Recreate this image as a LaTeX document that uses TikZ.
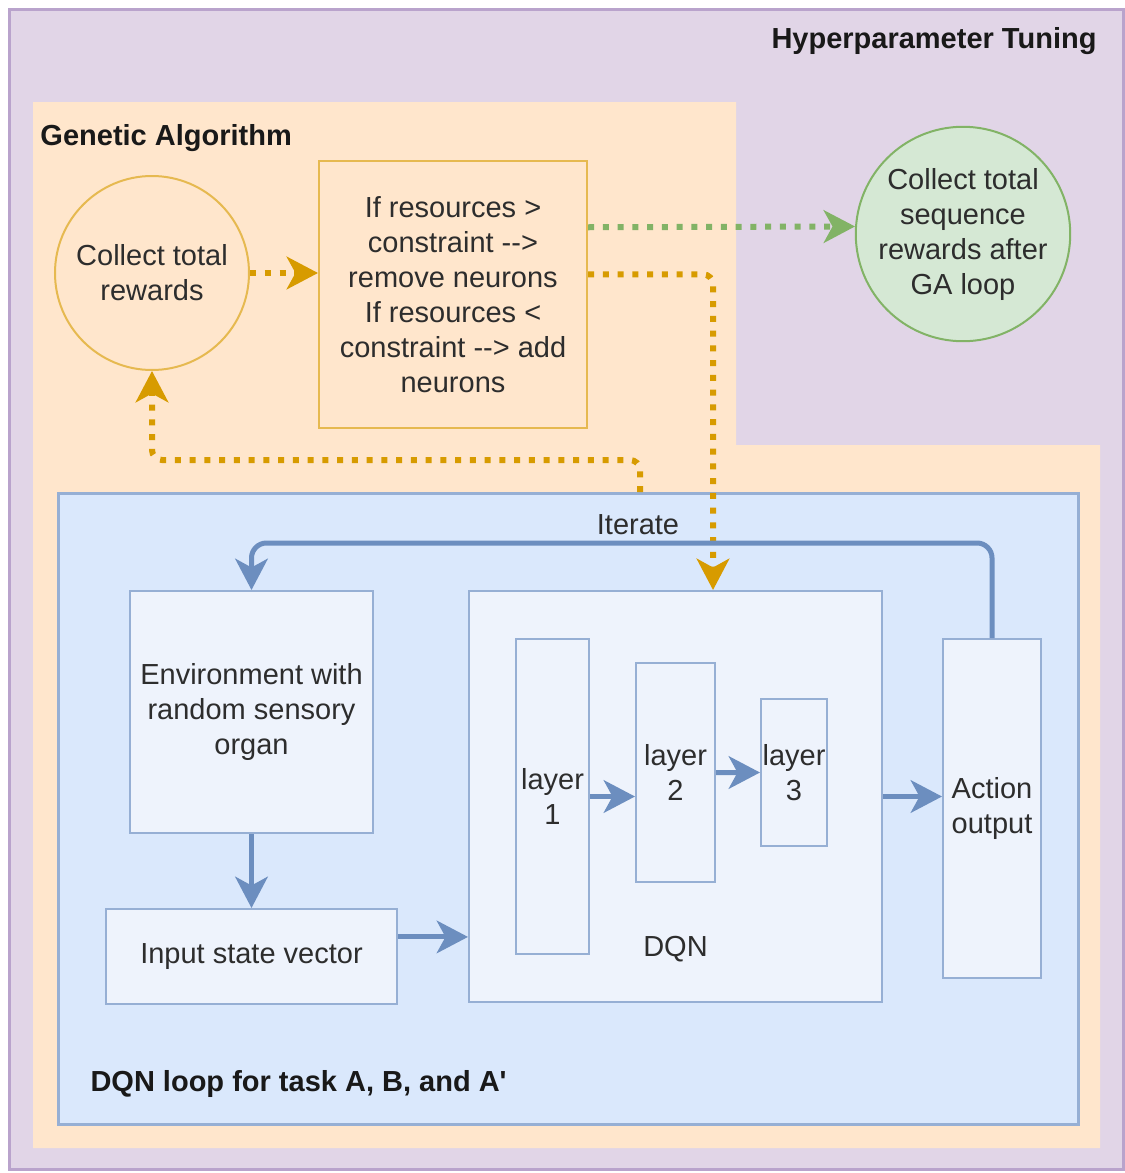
\documentclass[tikz,border=0pt]{standalone}
\usepackage{fontspec}
\setmainfont{Liberation Sans}
\usepackage{tikz}
\usetikzlibrary{shapes.geometric, arrows.meta, positioning, calc}
\definecolor{purpleBg}{RGB}{225, 213, 231}
\definecolor{purpleFg}{RGB}{185, 163, 204}
\definecolor{orangeBg}{RGB}{255, 230, 204}
\definecolor{yellowFg}{RGB}{230, 185, 80}
\definecolor{orangeFg}{RGB}{215, 155, 0}
\definecolor{greenBg}{RGB}{213, 232, 212}
\definecolor{greenFg}{RGB}{130, 179, 102}
\definecolor{blueBg}{RGB}{218, 232, 252}
\definecolor{blueFg}{RGB}{108, 142, 191}
\definecolor{boxFg}{RGB}{150, 175, 212}
\definecolor{boxBg}{RGB}{238, 243, 252}
\definecolor{textGray}{RGB}{45, 45, 45}
\tikzstyle{txt} = [text=textGray, font=\fontsize{11.6}{14}\selectfont, align=center, inner sep=0pt]
\tikzstyle{title} = [text=black!90, font=\bfseries\fontsize{11.6}{14}\selectfont, inner sep=0pt]
\tikzstyle{basic} = [rectangle, draw=boxFg, fill=boxBg, line width=0.8pt, txt]
\tikzstyle{roundstyle} = [circle, line width=0.8pt, txt]
\tikzstyle{bluearrow} = [line width=2pt, draw=blueFg, rounded corners=6pt, -{Stealth[length=12.5pt, width=13pt, inset=3.5pt]}]
\tikzstyle{dotarrow} = [line width=2.4pt, dash pattern=on 2.4pt off 3.5pt, rounded corners=4pt, -{Stealth[length=12.5pt, width=13pt, inset=3.5pt]}]

\begin{document}
\begin{tikzpicture}[x=0.4pt, y=-0.4pt, node distance=0mm]

\useasboundingbox (0,0) rectangle (1125,1173);

% containers
\node (tuning) [rectangle, draw=purpleFg, fill=purpleBg, line width=1.2pt, minimum width=445.6pt, minimum height=464pt, anchor=north west] at (8,8) {};
\fill [orangeBg] (33,102) -- (736,102) -- (736,445) -- (1100,445) -- (1100,1148) -- (33,1148) -- cycle;
\node (loop) [rectangle, draw=boxFg, fill=blueBg, line width=1pt, minimum width=408pt, minimum height=252.4pt, anchor=north west] at (57,492) {};

\node (tuningTitle) [title, anchor=east] at (1097,41) {Hyperparameter Tuning};
\node (gaTitle) [title, anchor=west] at (40,138) {Genetic Algorithm};
\node (loopTitle) [title, anchor=west] at (90,1084) {DQN loop for task A, B, and A\textquotesingle};

% genetic algorithm
\node (garule) [rectangle, draw=yellowFg, line width=0.8pt, txt, minimum width=107.2pt, minimum height=106.8pt, anchor=north west] at (318,160) {If resources >\\constraint -\/->\\remove neurons\\If resources <\\constraint -\/-> add\\neurons};
\node (collect) [roundstyle, draw=yellowFg, minimum size=77.6pt] at (152,273) {Collect total\\rewards};
\node (sequence) [roundstyle, draw=greenFg, fill=greenBg, minimum size=84.8pt] at (963,234) {Collect total\\sequence\\rewards after\\GA loop};

% dqn loop
\node (env) [basic, minimum width=97.2pt, minimum height=96.8pt, anchor=north west] at (129,590) {Environment with\\random sensory\\organ};
\node (input) [basic, minimum width=116.4pt, minimum height=38pt, anchor=north, yshift=-29.6pt] at(env.south) {Input state vector};
\node (dqn) [basic, minimum width=165.2pt, minimum height=164.4pt, anchor=north west, xshift=37.6pt] at(env.north east) {};
\node (dqnLabel) [txt] at ($(dqn.south)+(0,-54)$) {DQN};

\node (layer1) [basic, minimum width=29.2pt, minimum height=126pt, anchor=north west, xshift=18.8pt, yshift=-19.2pt] at(dqn.north west) {layer\\1};
\node (layer2) [basic, minimum width=31.6pt, minimum height=87.6pt, anchor=north west, xshift=18pt, yshift=-9.6pt] at(layer1.north east) {layer\\2};
\node (layer3) [basic, minimum width=26.4pt, minimum height=58.8pt, anchor=north west, xshift=17.6pt, yshift=-14.4pt] at(layer2.north east) {layer\\3};
\node (action) [basic, minimum width=39.2pt, minimum height=135.6pt, anchor=north west, xshift=23.6pt, yshift=-19.2pt] at(dqn.north east) {Action\\output};

\node (iterate) [txt] at (638,525) {Iterate};

\coordinate (loopTop) at (640,492);
\coordinate (dqnIn) at ($(dqn.north west)!0.84!(dqn.south west)$);

% connectors
\draw [dotarrow, draw=orangeFg] (collect.east) -- (collect.east -| garule.west);
\draw [dotarrow, draw=greenFg] ($(garule.north east)!0.25!(garule.south east)$) -- (sequence.176);
\draw [dotarrow, draw=orangeFg] ($(garule.north east)!0.425!(garule.south east)$) -| ($(dqn.north)+(37.5,0)$);
\draw [dotarrow, draw=orangeFg] (loopTop) -- ++(0,-32) -| (collect.south);

\draw [bluearrow] (action.north) -- ++(0,-95) -| (env.north);
\draw [bluearrow] (env.south) -- (input.north);
\draw [bluearrow] (input.east |- dqnIn) -- (dqnIn);
\draw [bluearrow] (layer1.east) -- (layer1.east -| layer2.west);
\draw [bluearrow] (layer2.east) -- (layer3.west);
\draw [bluearrow] (dqn.east) -- (dqn.east -| action.west);

\end{tikzpicture}
\end{document}
